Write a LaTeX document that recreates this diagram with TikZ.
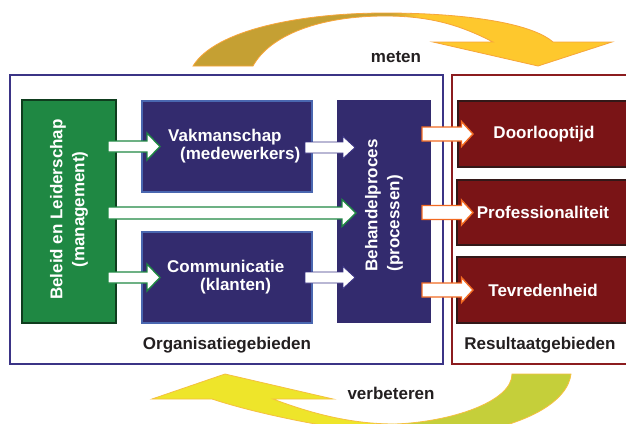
\documentclass[tikz,border=0pt]{standalone}
\usepackage{fontspec}
\setmainfont{Liberation Sans}
\usetikzlibrary{calc}
\definecolor{navy}{HTML}{332B6E}
\definecolor{navyline}{HTML}{3B3486}
\definecolor{boxline}{HTML}{4A67B0}
\definecolor{leadgreen}{HTML}{1F8843}
\definecolor{leadline}{HTML}{0F3D1E}
\definecolor{resred}{HTML}{7A1416}
\definecolor{resline}{HTML}{331818}
\definecolor{resframe}{HTML}{8C1C1F}
\definecolor{arrorange}{HTML}{F26A22}
\definecolor{txtdark}{HTML}{231F20}
\definecolor{tgA}{HTML}{C5A033}
\definecolor{tgB}{HTML}{FEC82D}
\definecolor{tgO}{HTML}{F7A53A}
\definecolor{bgA}{HTML}{EEE52A}
\definecolor{bgB}{HTML}{C5CF3A}
\definecolor{bgO}{HTML}{F5C040}
\pgfdeclarehorizontalshading{topgrad}{100bp}{color(0bp)=(tgA); color(48.5bp)=(tgA); color(52bp)=(tgB); color(100bp)=(tgB)}
\pgfdeclarehorizontalshading{botgrad}{100bp}{color(0bp)=(bgA); color(52bp)=(bgA); color(56bp)=(bgB); color(100bp)=(bgB)}
\newcommand\blockarr[6]{\draw[#1] ([yshift=#4]#2) -- ([xshift=-#6,yshift=#4]#3) -- ([xshift=-#6,yshift=#5]#3) -- (#3) -- ([xshift=-#6,yshift=-#5]#3) -- ([xshift=-#6,yshift=-#4]#3) -- ([yshift=-#4]#2) -- cycle;}
\tikzset{
  box/.style={rectangle, inner sep=0pt, outer sep=0pt, anchor=north west},
  wtxt/.style={text=white, font={\fontsize{17}{18}\selectfont\bfseries}, inner sep=0pt},
  dtxt/.style={text=txtdark, font={\fontsize{17}{18}\selectfont\bfseries}, inner sep=0pt},
  frameL/.style={box, draw=navyline, line width=1.8pt},
  frameR/.style={box, draw=resframe, line width=1.6pt},
  leadbox/.style={box, fill=leadgreen, draw=leadline, line width=1.5pt},
  areabox/.style={box, fill=navy, draw=boxline, line width=1.5pt},
  procbox/.style={box, fill=navy},
  resbox/.style={box, fill=resred, draw=resline, line width=1.6pt, wtxt},
  garr/.style={fill=white, draw=leadgreen, line width=1.4pt},
  narr/.style={fill=white, draw=navyline, line width=0.8pt},
  oarr/.style={fill=white, draw=arrorange, line width=1.4pt},
  bendarrow/.style={line width=0.8pt},
}
\begin{document}
\begin{tikzpicture}[x=1pt,y=-1pt]
\useasboundingbox (0,0) rectangle (626,423);
\clip (0,0) rectangle (626,423);
\fill[white] (0,0) rectangle (626,423);

% frames
\node[frameL, minimum width=433pt, minimum height=289pt] (org) at (10,75) {};
\node[frameR, minimum width=190pt, minimum height=289pt] (res) at (452,75) {};

% boxes
\node[leadbox, minimum width=94pt, minimum height=223pt] (lead) at (22,100) {};
\node[areabox, minimum width=170pt, minimum height=91pt] (vak) at (142,101) {};
\node[areabox, minimum width=170pt, minimum height=91pt] (comm) at (142,232) {};
\node[procbox, minimum width=94pt, minimum height=223pt] (beh) at (337,100) {};
\node[resbox, minimum width=172pt, minimum height=66pt] (door) at (458,101) {Doorlooptijd};
\node[resbox, minimum width=172pt, minimum height=65pt] (prof) at (457,180) {Professionaliteit};
\node[resbox, minimum width=172pt, minimum height=66pt] (tevr) at (457,257) {Tevredenheid};

% box texts
\node[wtxt, rotate=90, align=center, font={\fontsize{17}{22}\selectfont\bfseries}] (leadt) at ([yshift=2pt]lead.center) {Beleid en Leiderschap\\(management)};
\node[wtxt, anchor=west, align=left] (vakt) at ([xshift=26pt]vak.west) {Vakmanschap\\\hspace*{12pt}(medewerkers)};
\node[wtxt, anchor=west, align=left] (commt) at ([xshift=25pt]comm.west) {Communicatie\\\hspace*{33pt}(klanten)};
\node[wtxt, rotate=90, align=left, font={\fontsize{17}{22}\selectfont\bfseries}] (beht) at ([yshift=6pt]beh.center) {Behandelproces\\(processen)};

% labels
\node[dtxt] (orgl) at (227,345) {Organisatiegebieden};
\node[dtxt] (resl) at (540,345) {Resultaatgebieden};
\node[dtxt] (meten) at (396,57) {meten};
\node[dtxt] (verb) at (391,393) {verbeteren};

% block arrow coordinates
\coordinate (g1s) at ([xshift=-8pt]lead.east |- vak.center);
\coordinate (g1e) at ([xshift=18pt]vak.west);
\coordinate (g2s) at ([xshift=-8pt,yshift=-1.5pt]lead.east);
\coordinate (g2e) at ([xshift=19pt]beh.west |- g2s);
\coordinate (g3s) at ([xshift=-8pt]lead.east |- comm.center);
\coordinate (g3e) at ([xshift=18pt]comm.west);
\coordinate (n1s) at ([xshift=-7pt,yshift=-1pt]vak.east);
\coordinate (n1e) at ([xshift=18pt]beh.west |- n1s);
\coordinate (n2s) at ([xshift=-7pt]comm.east);
\coordinate (n2e) at ([xshift=18pt]beh.west |- n2s);
\coordinate (o1s) at ([xshift=-9pt]beh.east |- door.center);
\coordinate (o1e) at ([xshift=15pt]door.west);
\coordinate (o2s) at ([xshift=-9pt]beh.east |- prof.center);
\coordinate (o2e) at ([xshift=16pt]prof.west);
\coordinate (o3s) at ([xshift=-9pt]beh.east |- tevr.center);
\coordinate (o3e) at ([xshift=16pt]tevr.west);

\blockarr{garr}{g1s}{g1e}{5.5pt}{13.5pt}{13pt}
\blockarr{garr}{g2s}{g2e}{6pt}{13.5pt}{14pt}
\blockarr{garr}{g3s}{g3e}{5.5pt}{13.5pt}{13pt}
\blockarr{narr}{n1s}{n1e}{5.5pt}{11pt}{12pt}
\blockarr{narr}{n2s}{n2e}{5.5pt}{11pt}{12pt}
\blockarr{oarr}{o1s}{o1e}{7pt}{12.5pt}{11.5pt}
\blockarr{oarr}{o2s}{o2e}{7pt}{12.5pt}{11.5pt}
\blockarr{oarr}{o3s}{o3e}{7pt}{12.5pt}{11.5pt}

% curved arrows
\shadedraw[bendarrow, shading=topgrad, draw=tgO] (193,66) .. controls (215,30) and (300,13) .. (385,13) .. controls (460,13) and (530,22) .. (553,42) -- (612,42) -- (538,66) -- (433,42) -- (493,42) .. controls (460,25) and (430,16) .. (385,16) .. controls (320,16) and (270,35) .. (253,66) -- cycle;
\shadedraw[bendarrow, shading=botgrad, draw=bgO] (571,374) .. controls (568,400) and (530,428) .. (440,438) .. controls (360,436) and (260,415) .. (212,399) -- (152,399) -- (225,374) -- (333,399) -- (273,399) .. controls (310,413) and (350,424) .. (395,424) .. controls (450,422) and (512,402) .. (512,374) -- cycle;
\end{tikzpicture}
\end{document}
